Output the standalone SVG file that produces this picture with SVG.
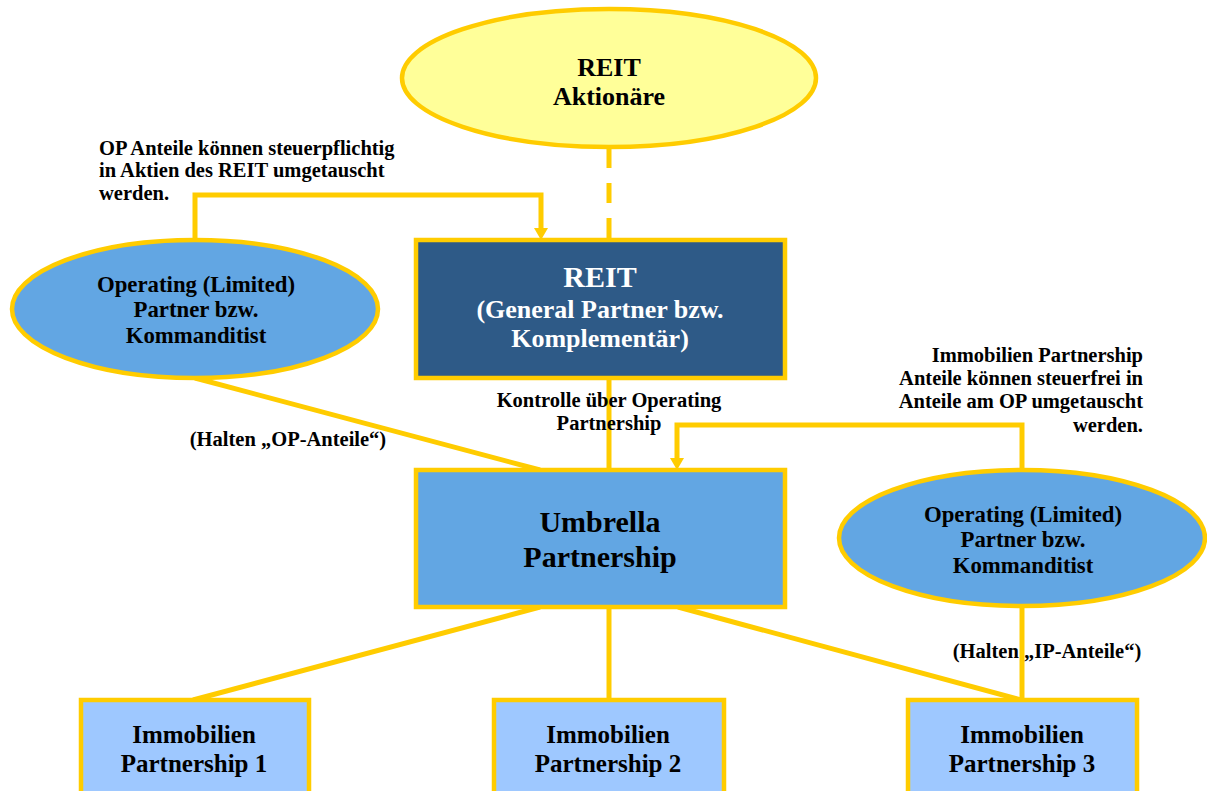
<svg xmlns="http://www.w3.org/2000/svg" width="1207" height="791" viewBox="0 0 1207 791">
<style>
text{font-family:"Liberation Serif","Times New Roman",serif;font-weight:bold;fill:#000;text-anchor:middle}
.w{fill:#fff}
.st{text-anchor:start}
.en{text-anchor:end}
.ln{fill:none;stroke:#FFCC00;stroke-width:5}
.node{stroke:#FFCC00;stroke-width:4.5}
.s20{font-size:20.5px}
.s22{font-size:22.8px}
.s24{font-size:25px}
.s26{font-size:26px}
.s30{font-size:30px}
</style>
<defs>
<marker id="ah" markerUnits="userSpaceOnUse" markerWidth="12" markerHeight="14" refX="0" refY="7" orient="auto" viewBox="0 0 12 14">
<path d="M0,0 L12,7 L0,14 z" fill="#FFCC00"/>
</marker>
</defs>
<rect width="1207" height="791" fill="#fff"/>
<g id="connectors">
<line class="ln" x1="609" y1="148" x2="609" y2="240" stroke-dasharray="20 15" stroke-width="6"/>
<polyline class="ln" points="195,240 195,195 541,195 541,228" marker-end="url(#ah)"/>
<line class="ln" x1="609" y1="378" x2="609" y2="470"/>
<line class="ln" x1="195" y1="378" x2="540" y2="470"/>
<polyline class="ln" points="1022,470 1022,425 677,425 677,458" marker-end="url(#ah)"/>
<line class="ln" x1="540" y1="607" x2="193" y2="700"/>
<line class="ln" x1="609" y1="607" x2="609" y2="700"/>
<line class="ln" x1="678" y1="607" x2="1021" y2="700"/>
<line class="ln" x1="1022" y1="607" x2="1022" y2="700"/>
</g>
<g id="reit-aktionaere">
<ellipse class="node" cx="609" cy="78" rx="207" ry="69" fill="#FFFF99"/>
<text class="s26" x="609" y="76">REIT</text>
<text class="s26" x="609" y="105">Aktionäre</text>
</g>
<g id="reit-gp">
<rect class="node" x="416" y="240" width="369" height="138" fill="#2E5A87"/>
<text class="s30 w" x="600" y="287">REIT</text>
<text class="s26 w" x="600" y="318">(General Partner bzw.</text>
<text class="s26 w" x="600" y="347">Komplementär)</text>
</g>
<g id="op-left">
<ellipse class="node" cx="195" cy="309" rx="183" ry="69" fill="#62A6E3"/>
<text class="s22" x="196" y="292">Operating (Limited)</text>
<text class="s22" x="196" y="317">Partner bzw.</text>
<text class="s22" x="196" y="343">Kommanditist</text>
</g>
<g id="umbrella">
<rect class="node" x="416" y="470" width="369" height="137" fill="#62A6E3"/>
<text class="s30" x="600" y="532">Umbrella</text>
<text class="s30" x="600" y="567">Partnership</text>
</g>
<g id="op-right">
<ellipse class="node" cx="1022" cy="538" rx="183" ry="68" fill="#62A6E3"/>
<text class="s22" x="1023" y="522">Operating (Limited)</text>
<text class="s22" x="1023" y="547">Partner bzw.</text>
<text class="s22" x="1023" y="573">Kommanditist</text>
</g>
<g id="ip1">
<rect class="node" x="81" y="700" width="228" height="100" fill="#9EC8FF"/>
<text class="s24" x="194" y="743">Immobilien</text>
<text class="s24" x="194" y="772">Partnership 1</text>
</g>
<g id="ip2">
<rect class="node" x="494" y="700" width="230" height="100" fill="#9EC8FF"/>
<text class="s24" x="608" y="743">Immobilien</text>
<text class="s24" x="608" y="772">Partnership 2</text>
</g>
<g id="ip3">
<rect class="node" x="908" y="700" width="229" height="100" fill="#9EC8FF"/>
<text class="s24" x="1022" y="743">Immobilien</text>
<text class="s24" x="1022" y="772">Partnership 3</text>
</g>
<g id="labels">
<text class="s20 st" x="99" y="155">OP Anteile können steuerpflichtig</text>
<text class="s20 st" x="99" y="177">in Aktien des REIT umgetauscht</text>
<text class="s20 st" x="99" y="200">werden.</text>
<text class="s20" x="609" y="407">Kontrolle über Operating</text>
<text class="s20" x="609" y="430">Partnership</text>
<text class="s20" x="288" y="446">(Halten „OP-Anteile“)</text>
<text class="s20 en" x="1143" y="362">Immobilien Partnership</text>
<text class="s20 en" x="1143" y="385">Anteile können steuerfrei in</text>
<text class="s20 en" x="1143" y="408">Anteile am OP umgetauscht</text>
<text class="s20 en" x="1143" y="432">werden.</text>
<text class="s20" x="1047" y="658">(Halten „IP-Anteile“)</text>
</g>
</svg>
